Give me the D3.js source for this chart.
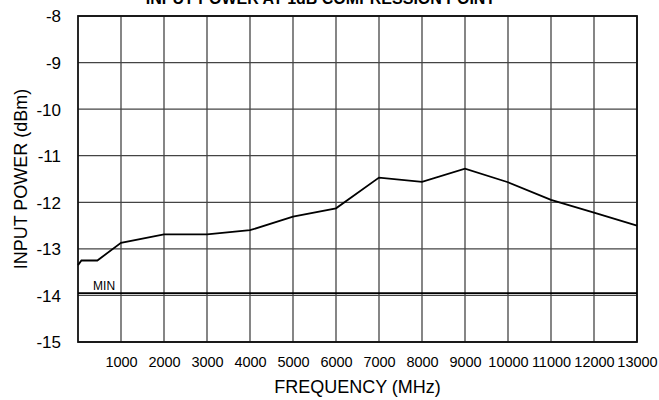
<!DOCTYPE html>
<html>
<head>
<meta charset="utf-8">
<script src="https://cdn.jsdelivr.net/npm/d3@7"></script>
<style>
  body { margin: 0; background: #fff; }
  svg { display: block; font-family: "Liberation Sans", Arial, sans-serif; }
</style>
</head>
<body>
<svg id="chart" width="659" height="400"></svg>
<script>
const width = 659;
const height = 400;

// curve
const freq = [0, 80, 450, 1000, 2000, 3000, 4000, 5000, 6000, 7000, 8000, 9000, 10000, 11000, 12000, 13000];
const power = [-13.35, -13.25, -13.25, -12.87, -12.69, -12.69, -12.6, -12.31, -12.13, -11.47, -11.56, -11.28, -11.57, -11.95, -12.22, -12.5];

const minLevel = -13.95;
const xTicks = [1000, 2000, 3000, 4000, 5000, 6000, 7000, 8000, 9000, 10000, 11000, 12000, 13000];
const yTicks = [-8, -9, -10, -11, -12, -13, -14, -15];

const margin = {left: 78, right: 22, top: 16, bottom: 58};

var svg = d3.select("#chart");

var x = d3.scaleLinear().domain([0, 13000]).range([margin.left, width - margin.right]);
var y = d3.scaleLinear().domain([-15, -8]).range([height - margin.bottom, margin.top]);

// grid
svg.append("g")
    .selectAll("line")
    .data(xTicks)
    .join("line")
    .attr("x1", d => x(d)).attr("x2", d => x(d))
    .attr("y1", y(-15)).attr("y2", y(-8))
    .attr("stroke", "#444").attr("stroke-width", 1.3);

svg.append("g")
    .selectAll("line")
    .data(yTicks)
    .join("line")
    .attr("x1", x(0)).attr("x2", x(13000))
    .attr("y1", d => y(d)).attr("y2", d => y(d))
    .attr("stroke", "#444").attr("stroke-width", 1.3);

// frame
svg.append("rect")
    .attr("x", x(0)).attr("y", y(-8))
    .attr("width", x(13000) - x(0)).attr("height", y(-15) - y(-8))
    .attr("fill", "none").attr("stroke", "#111").attr("stroke-width", 1.8);

// tick labels
svg.append("g")
    .attr("transform", "translate(0," + (y(-15) + 22) + ")")
    .call(d3.axisBottom(x).tickValues(xTicks).tickSize(0).tickFormat(d3.format("d")))
    .call(g => g.select(".domain").remove())
    .call(g => g.selectAll("text").attr("font-size", 14.5).attr("fill", "#000")
        .attr("font-family", "Liberation Sans, Arial, sans-serif").attr("dy", "0"));

svg.append("g")
    .attr("transform", "translate(" + (x(0) - 14) + ",0)")
    .call(d3.axisLeft(y).tickValues(yTicks).tickSize(0).tickFormat(d3.format("d")))
    .call(g => g.select(".domain").remove())
    .call(g => g.selectAll("text").attr("font-size", 17).attr("fill", "#000")
        .attr("font-family", "Liberation Sans, Arial, sans-serif").attr("dy", "0.35em")
        .text(d => "-" + Math.abs(d)));

// MIN line
svg.append("line")
    .attr("x1", x(0)).attr("x2", x(13000))
    .attr("y1", y(minLevel)).attr("y2", y(minLevel))
    .attr("stroke", "#000").attr("stroke-width", 1.8);

svg.append("text")
    .attr("x", x(350)).attr("y", y(minLevel) - 3)
    .attr("font-size", 12)
    .text("MIN");

// curve
var line = d3.line()
    .x((d, i) => x(freq[i]))
    .y(d => y(d));

svg.append("path")
    .datum(power)
    .attr("d", line)
    .attr("fill", "none")
    .attr("stroke", "#000")
    .attr("stroke-width", 1.8);

// titles (the top title is cut by the page edge, as in the source)
svg.append("text")
    .attr("x", (x(0) + x(13000)) / 2 - 37).attr("y", 4)
    .attr("text-anchor", "middle")
    .attr("font-size", 16).attr("font-weight", "bold")
    .text("INPUT POWER AT 1dB COMPRESSION POINT");

svg.append("text")
    .attr("x", (x(0) + x(13000)) / 2).attr("y", 393)
    .attr("text-anchor", "middle")
    .attr("font-size", 18)
    .text("FREQUENCY (MHz)");

svg.append("text")
    .attr("transform", "translate(27," + ((y(-8) + y(-15)) / 2) + ") rotate(-90)")
    .attr("text-anchor", "middle")
    .attr("font-size", 18)
    .text("INPUT POWER (dBm)");
</script>
</body>
</html>
